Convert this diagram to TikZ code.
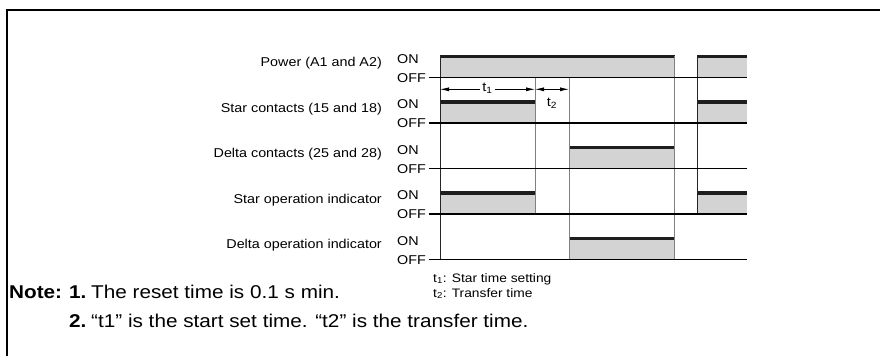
\documentclass[tikz,border=0pt]{standalone}
\usepackage{fontspec}
\setmainfont[FakeStretch=1.12]{Liberation Sans}
\usetikzlibrary{arrows.meta}
\definecolor{fillgray}{HTML}{D3D3D3}
\definecolor{edgegray}{HTML}{808080}
\definecolor{hicol}{HTML}{1E1E1E}
\begin{document}
\begin{tikzpicture}[x=1pt,y=-1pt,
  siglabel/.style={font=\fontsize{12.8}{15}\selectfont, anchor=base east, inner sep=0pt},
  lvl/.style={font=\fontsize{12.8}{15}\selectfont, anchor=base west, inner sep=0pt},
  hiline/.style={line width=3.3pt, hicol},
  baseln/.style={line width=1.1pt, black},
  edgeblk/.style={line width=1pt, black!85},
  edgegr/.style={line width=1pt, edgegray},
  dimarrow/.style={line width=0.8pt, -{Latex[length=9pt,width=4pt]}},
  legend/.style={font=\fontsize{12.3}{14}\selectfont, anchor=base west, inner sep=0pt},
  notetext/.style={font=\fontsize{18.5}{21}\selectfont, anchor=base west, inner sep=0pt}]
\useasboundingbox (0,0) rectangle (880,356);
\newcommand\pulse[3]{%
  \fill[fillgray] (#1,#3-21) rectangle (#2,#3);
  \draw[hiline] (#1,#3-21) -- (#2,#3-21);}
% frame
\draw[line width=2pt] (7,356) -- (7,10) -- (880,10);
% pulses
\pulse{440}{674.7}{77.5}
\pulse{697}{747}{77.5}
\pulse{440}{535}{123}
\pulse{697}{747}{123}
\pulse{569}{674.7}{168.5}
\pulse{440}{535}{214}
\pulse{697}{747}{214}
\pulse{569}{674.7}{259.5}
% vertical edges
\draw[edgeblk] (440,56) -- (440,259.5);
\draw[edgegr] (535,77.5) -- (535,214);
\draw[edgegr] (569,77.5) -- (569,259.5);
\draw[edgegr] (674.7,56) -- (674.7,259.5);
\draw[edgeblk] (697,56) -- (697,214);
% rows
\foreach \B/\lab/\nm in {77.5/Power (A1 and A2)/pw, 123/Star contacts (15 and 18)/sc, 168.5/Delta contacts (25 and 28)/dc, 214/Star operation indicator/si, 259.5/Delta operation indicator/di}{
  \node[siglabel] (\nm) at (382,\B-11) {\lab};
  \node[lvl] (\nm on) at (397,\B-14.5) {ON};
  \node[lvl] (\nm off) at (397,\B+4.6) {OFF};
  \coordinate (\nm b) at (747,\B);
  \draw[baseln] (\nm off.east |- 0,\B) ++(2.5,0) -- (\nm b);
}
% t1 / t2 dimensions
\coordinate (a1) at (440,89.3);
\coordinate (a2) at (535,89.3);
\coordinate (a3) at (569,89.3);
\node[font=\fontsize{13}{15}\selectfont, inner sep=2pt] (t1) at (487.5,88) {t\textsubscript{1}};
\draw[dimarrow] (t1.west |- a1) -- (a1);
\draw[dimarrow] (t1.east |- a1) -- (a2);
\draw[line width=0.8pt, {Latex[length=9pt,width=4pt]}-{Latex[length=9pt,width=4pt]}] (a2) -- (a3);
\node[font=\fontsize{13}{15}\selectfont, inner sep=0pt] (t2) at (552,103) {t\textsubscript{2}};
% legend
\node[legend] (l1) at (433,282) {t\textsubscript{1}: Star time setting};
\node[legend] (l2) at (433,297) {t\textsubscript{2}: Transfer time};
% notes
\node[notetext] (n0) at (9,298) {\bfseries Note:};
\node[notetext] (n1) at (69,298) {\bfseries 1.};
\node[notetext] (n1t) at (91,298) {The reset time is 0.1 s min.};
\node[notetext] (n2) at (69,327) {\bfseries 2.};
\node[notetext] (n2t) at (91,327) {“t1” is the start set time. “t2” is the transfer time.};
\end{tikzpicture}
\end{document}
